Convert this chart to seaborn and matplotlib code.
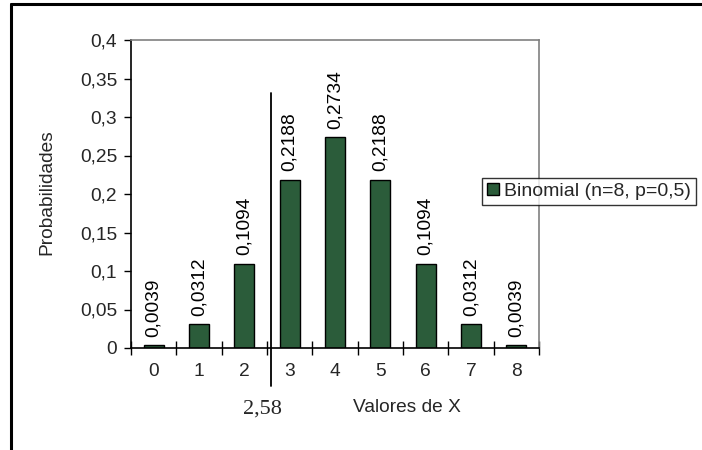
import matplotlib
matplotlib.use("Agg")
import matplotlib.pyplot as plt
import seaborn as sns
import pandas as pd
from matplotlib.ticker import FuncFormatter, FixedLocator
from matplotlib.lines import Line2D
from matplotlib.patches import Patch

categories = ["0", "1", "2", "3", "4", "5", "6", "7", "8"]
values = [0.0039, 0.0312, 0.1094, 0.2188, 0.2734, 0.2188, 0.1094, 0.0312, 0.0039]
value_labels = ["0,0039", "0,0312", "0,1094", "0,2188", "0,2734", "0,2188", "0,1094", "0,0312", "0,0039"]
series_name = "Binomial (n=8, p=0,5)"
critical_value = 2.58
critical_label = "2,58"
y_ticks = [0, 0.05, 0.1, 0.15, 0.2, 0.25, 0.3, 0.35, 0.4]

sns.set_theme(style="white")
plt.rcParams['font.family'] = ['Liberation Sans', 'DejaVu Sans']

W, H = 702, 450
fig = plt.figure(figsize=(W / 100, H / 100), dpi=100)
ax = fig.add_axes([131 / W, (H - 348) / H, 408 / W, 308 / H])

bar_color = "#2b5c3a"
df = pd.DataFrame({"x": categories, "p": values})
sns.barplot(data=df, x="x", y="p", color=bar_color, width=0.44,
            edgecolor="black", linewidth=1.0, saturation=1, ax=ax)

ax.set_xlim(-0.5, 8.5)
ax.set_ylim(0, 0.4)
ax.set_xlabel("")
ax.set_ylabel("")

fs = 13.8
ax.yaxis.set_major_locator(FixedLocator(y_ticks))
ax.yaxis.set_major_formatter(FuncFormatter(lambda v, p: ("%g" % v).replace(".", ",")))
ax.tick_params(axis="y", which="major", left=True, direction="out", length=5, width=1,
               color="black", labelsize=fs, pad=5)
ax.tick_params(axis="x", which="major", bottom=True, length=0, labelsize=fs, pad=11)
ax.xaxis.set_minor_locator(FixedLocator([i + 0.5 for i in range(-1, 9)]))
ax.tick_params(axis="x", which="minor", bottom=True, direction="inout", length=10,
               width=1, color="black")

for s in ["left", "bottom"]:
    ax.spines[s].set_color("black")
    ax.spines[s].set_linewidth(1.2)
for s in ["top", "right"]:
    ax.spines[s].set_color("#808080")
    ax.spines[s].set_linewidth(1.2)

for i, (v, lab) in enumerate(zip(values, value_labels)):
    ax.annotate(lab, xy=(i, v), xytext=(0, 6), textcoords="offset points",
                rotation=90, ha="center", va="bottom", fontsize=fs, color="black")

# critical value line
ax.plot([critical_value, critical_value], [-0.049, 0.331], color="black",
        linewidth=1.3, clip_on=False)
ax.annotate(critical_label, xy=(critical_value, 0), xytext=(-6, -44),
            textcoords="offset points", ha="center", va="center",
            fontsize=16, family=["Liberation Serif", "DejaVu Serif"], annotation_clip=False)

fig.text(407 / W, 1 - 408 / H, "Valores de X", ha="center", va="center", fontsize=fs)
fig.text(47 / W, 1 - 192 / H, "Probabilidades", ha="center", va="center",
         rotation=90, fontsize=fs)

handle = Patch(facecolor=bar_color, edgecolor="black", linewidth=1)
leg = fig.legend([handle], [series_name], loc="upper left",
                 bbox_to_anchor=(482 / W, 1 - 178 / H), frameon=True, fancybox=False,
                 edgecolor="black", fontsize=14, handlelength=0.6, handleheight=0.6,
                 handletextpad=0.3, borderpad=0.25, borderaxespad=0)
leg.get_frame().set_linewidth(1.0)

# outer chart border (left and top edges visible)
fig.add_artist(Line2D([11 / W, 11 / W], [0, 1 - 4 / H], color="black", linewidth=2.2,
                      transform=fig.transFigure))
fig.add_artist(Line2D([11 / W, 1], [1 - 4 / H, 1 - 4 / H], color="black", linewidth=2.2,
                      transform=fig.transFigure))

fig.savefig("out.png", dpi=100)
